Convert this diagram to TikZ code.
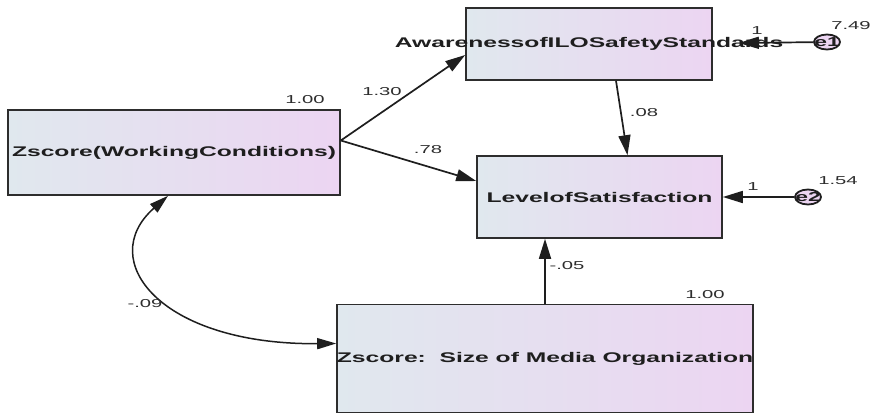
\documentclass[tikz,border=0pt]{standalone}
\usepackage{fontspec}
\setmainfont{Liberation Sans}
\usepackage{graphicx}
\usetikzlibrary{arrows.meta,shapes.geometric}
\definecolor{ink}{RGB}{30,30,30}
\definecolor{frame}{RGB}{45,45,45}
\definecolor{paleblue}{RGB}{224,232,238}
\definecolor{palelilac}{RGB}{236,213,242}
\definecolor{numgray}{RGB}{45,45,45}
% wide, flat lettering that may run past the box edges
\newcommand{\wide}[1]{\makebox[0pt]{\scalebox{1.76}[1]{#1}}}
\tikzset{
  every picture/.style={color=ink},
  var/.style={draw=frame, line width=1.6pt, rectangle, inner sep=0pt,
    left color=paleblue, right color=palelilac,
    font=\fontsize{14}{16}\selectfont\bfseries},
  err/.style={draw=ink, ellipse, line width=1.8pt, inner sep=0pt,
    minimum width=26pt, minimum height=15pt, fill=palelilac,
    font=\fontsize{13}{14}\selectfont\bfseries},
  path/.style={-{Triangle[length=20pt,width=12pt]}, line width=1.7pt},
  cov/.style={{Triangle[length=19pt,width=11pt]}-{Triangle[length=19pt,width=11pt]}, line width=1.5pt},
  est/.style={font=\fontsize{11.5}{13}\selectfont, text=numgray, inner sep=1pt},
}
\begin{document}
\begin{tikzpicture}[x=1pt, y=-1pt]
  \useasboundingbox (0,0) rectangle (874,414);
  % observed variables
  \node[var, minimum width=332pt, minimum height=85pt] (wc) at (174,152.5) {\wide{Zscore(WorkingConditions)}};
  \node[var, minimum width=246pt, minimum height=72pt] (aw) at (589,44) {\wide{AwarenessofILOSafetyStandards}};
  \node[var, minimum width=245pt, minimum height=82pt] (lv) at (599.5,197) {\wide{LevelofSatisfaction}};
  \node[var, minimum width=416pt, minimum height=108pt] (md) at (545,358.5) {\wide{Zscore:\ \ Size of Media Organization}};
  % error terms
  \node[err] (e1) at (827,42) {\wide{e1}};
  \node[err] (e2) at (808,197) {\wide{e2}};
  % regression paths
  \draw[path] ([yshift=12pt]wc.east) -- ([yshift=-11pt]aw.west);
  \draw[path] ([yshift=12pt]wc.east) -- ([yshift=16pt]lv.west);
  \draw[path] ([xshift=27pt]aw.south) -- ([xshift=28pt]lv.north);
  \draw[path] (md.north) -- (md.north |- lv.south);
  \draw[path] (e1) -- ([xshift=26pt,yshift=1pt]aw.east);
  \draw[path] (e2) -- (lv.east);
  % covariance
  \draw[cov] ([xshift=-6pt]wc.south) .. controls (95,260) and (160,345) .. ([yshift=15pt]md.west);
  % estimates
  \node[est] (wcvar) at (305,100) {\wide{1.00}};
  \node[est] (mdvar) at (705,295) {\wide{1.00}};
  \node[est] (e1var) at (851,26) {\wide{7.49}};
  \node[est] (e2var) at (838,181) {\wide{1.54}};
  \node[est] (e1w) at (757,31) {\wide{1}};
  \node[est] (e2w) at (753,187) {\wide{1}};
  \node[est] (b1) at (382,92) {\wide{1.30}};
  \node[est] (b2) at (428,150) {\wide{.78}};
  \node[est] (b3) at (644,113) {\wide{.08}};
  \node[est] (b4) at (567,266) {\wide{-.05}};
  \node[est] (r1) at (145,304) {\wide{-.09}};
\end{tikzpicture}
\end{document}
